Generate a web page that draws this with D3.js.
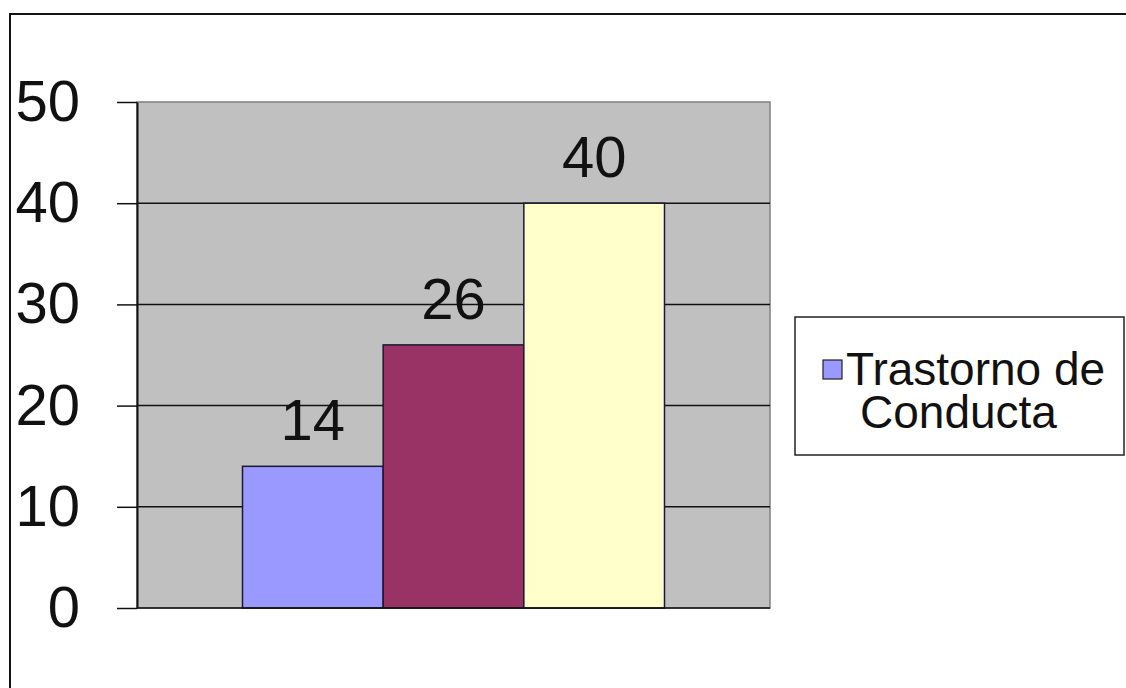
<!DOCTYPE html>
<html>
<head>
<meta charset="utf-8">
<script src="https://cdn.jsdelivr.net/npm/d3@7"></script>
<style>
	body { margin: 0; background: #fff; }
	svg { display: block; font-family: "Liberation Sans", Arial, sans-serif; }
</style>
</head>
<body>
<div id="chart-area"></div>
<script>
// data
const categories = [""];
const seriesNames = ["Trastorno de Conducta", "Serie 2", "Serie 3"];
const seriesValues = [14, 26, 40];
const seriesColors = ["#9999ff", "#993366", "#ffffcc"];
const yTicks = [0, 10, 20, 30, 40, 50];
const legendLines = ["Trastorno de", "Conducta"];

const FWIDTH = 1126,
	FHEIGHT = 688;
const MARGIN = { LEFT: 137, RIGHT: 356, TOP: 102, BOTTOM: 80 };
const WIDTH = FWIDTH - (MARGIN.LEFT + MARGIN.RIGHT);
const HEIGHT = FHEIGHT - (MARGIN.TOP + MARGIN.BOTTOM);

const svg = d3
	.select("#chart-area")
	.append("svg")
	.attr("width", FWIDTH)
	.attr("height", FHEIGHT);

// outer chart border (right/bottom run off the picture)
svg.append("rect")
	.attr("x", 10)
	.attr("y", 14)
	.attr("width", 1130)
	.attr("height", 700)
	.attr("fill", "#fff")
	.attr("stroke", "#111")
	.attr("stroke-width", 2);

const g = svg
	.append("g")
	.attr("transform", `translate(${MARGIN.LEFT}, ${MARGIN.TOP})`);

const y = d3.scaleLinear().domain([0, 50]).range([HEIGHT, 0]);

const x0 = d3
	.scaleBand()
	.domain(categories)
	.range([0, WIDTH])
	.paddingInner(0)
	.paddingOuter(0.25);

const x1 = d3
	.scaleBand()
	.domain(d3.range(seriesValues.length))
	.range([0, x0.bandwidth()]);

// plot area
g.append("rect")
	.attr("width", WIDTH)
	.attr("height", HEIGHT)
	.attr("fill", "#c0c0c0")
	.attr("stroke", "#808080")
	.attr("stroke-width", 1.5);

// gridlines
g.append("g")
	.selectAll("line")
	.data(yTicks.slice(1, -1))
	.enter()
	.append("line")
	.attr("x1", 0)
	.attr("x2", WIDTH)
	.attr("y1", (d) => y(d))
	.attr("y2", (d) => y(d))
	.attr("stroke", "#111")
	.attr("stroke-width", 1.5);

// bars
const bars = g
	.append("g")
	.attr("transform", `translate(${x0(categories[0])}, 0)`);

bars.selectAll("rect")
	.data(seriesValues)
	.enter()
	.append("rect")
	.attr("x", (d, i) => x1(i))
	.attr("y", (d) => y(d))
	.attr("width", x1.bandwidth())
	.attr("height", (d) => HEIGHT - y(d))
	.attr("fill", (d, i) => seriesColors[i])
	.attr("stroke", "#1a1a2e")
	.attr("stroke-width", 1.5);

bars.selectAll("text")
	.data(seriesValues)
	.enter()
	.append("text")
	.attr("x", (d, i) => x1(i) + x1.bandwidth() / 2)
	.attr("y", (d) => y(d) - 26)
	.attr("text-anchor", "middle")
	.attr("font-size", "58px")
	.attr("fill", "#111")
	.text((d) => d);

// y axis
const yAxis = g
	.append("g")
	.attr("class", "y_axis")
	.call(
		d3.axisLeft(y)
			.tickValues(yTicks)
			.tickSize(20)
			.tickPadding(37)
			.tickSizeOuter(0)
	);
yAxis.select(".domain").attr("stroke", "#111").attr("stroke-width", 2);
yAxis.selectAll(".tick line").attr("stroke", "#111").attr("stroke-width", 1.5);
yAxis.selectAll(".tick text")
	.attr("font-size", "58px")
	.attr("font-family", "Liberation Sans, Arial, sans-serif")
	.attr("fill", "#111");

// x axis line
g.append("line")
	.attr("x1", 0)
	.attr("x2", WIDTH)
	.attr("y1", HEIGHT)
	.attr("y2", HEIGHT)
	.attr("stroke", "#111")
	.attr("stroke-width", 1.5);

// legend
const legend = svg.append("g").attr("class", "legend");

legend.append("rect")
	.attr("x", 795)
	.attr("y", 317)
	.attr("width", 329)
	.attr("height", 138)
	.attr("fill", "#fff")
	.attr("stroke", "#222")
	.attr("stroke-width", 1.5);

legend.append("rect")
	.attr("x", 823)
	.attr("y", 360)
	.attr("width", 19)
	.attr("height", 19)
	.attr("fill", seriesColors[0])
	.attr("stroke", "#222")
	.attr("stroke-width", 1.2);

legend.selectAll("text.legend-line")
	.data(legendLines)
	.enter()
	.append("text")
	.attr("class", "legend-line")
	.attr("font-size", "46px")
	.attr("fill", "#111")
	.attr("x", (d, i) => (i === 0 ? 846 : 860))
	.attr("y", (d, i) => 385 + i * 43)
	.text((d) => d);
</script>
</body>
</html>
